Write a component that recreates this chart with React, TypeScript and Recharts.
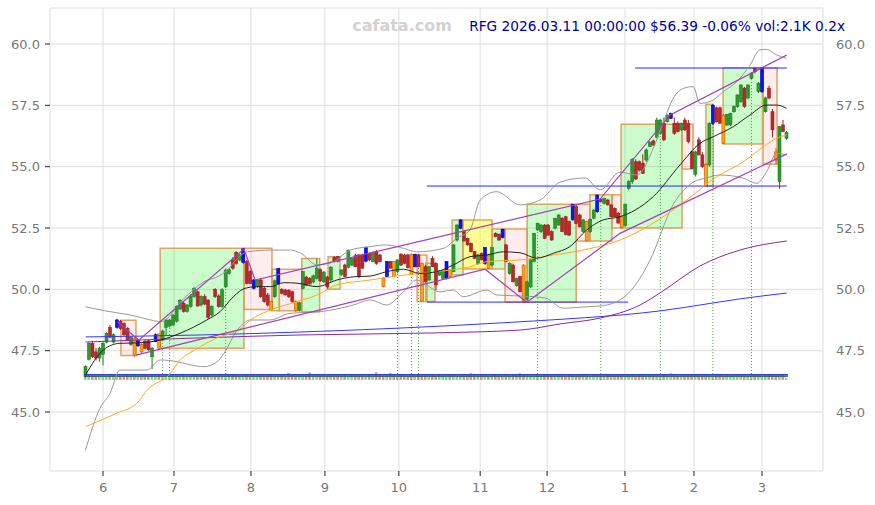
import { ComposedChart, XAxis, YAxis, CartesianGrid, Bar, Line, ReferenceArea, ReferenceLine } from 'recharts'

// daily candles [open, high, low, close], index 0 = late May 2025
const candles: [number, number, number, number][] = [
  [46.45, 46.9, 46.4, 46.85], [47.15, 47.85, 47.1, 47.8], [47.8, 47.9, 47.2, 47.25], [47.45, 47.6, 47.1, 47.2], [47.2, 47.65, 47.05, 47.6],
  [47.35, 47.85, 46.9, 47.8], [47.85, 48.25, 47.8, 48.2], [48.45, 48.55, 48.0, 48.05], [47.85, 48.2, 47.8, 48.15], [48.45, 48.8, 48.4, 48.75],
  [48.7, 48.75, 48.35, 48.4], [48.6, 48.65, 48.1, 48.15], [48.4, 48.45, 47.9, 47.95], [47.75, 48.1, 47.7, 48.05], [48.0, 48.1, 47.25, 47.3],
  [47.7, 47.95, 47.65, 47.93], [47.75, 47.8, 47.4, 47.45], [47.87, 47.95, 47.55, 47.6], [47.9, 47.95, 47.5, 47.53], [47.25, 47.65, 46.75, 47.6],
  [47.87, 48.2, 47.85, 48.15], [48.18, 48.2, 47.55, 47.6], [47.93, 48.35, 47.9, 48.3], [48.45, 48.8, 48.1, 48.75], [48.5, 48.8, 48.45, 48.75],
  [48.55, 49.0, 48.5, 48.95], [48.7, 49.35, 48.65, 49.3], [49.2, 49.6, 49.15, 49.55], [49.43, 49.5, 49.05, 49.1], [49.1, 49.4, 49.05, 49.36],
  [49.3, 49.8, 49.25, 49.73], [49.7, 50.1, 49.65, 50.04], [49.9, 49.95, 49.3, 49.32], [49.36, 49.75, 49.3, 49.7], [49.7, 49.8, 49.35, 49.4],
  [49.56, 49.6, 48.8, 48.86], [48.95, 49.35, 48.9, 49.3], [50.0, 50.05, 49.65, 49.7], [49.73, 49.8, 49.25, 49.3], [49.3, 50.05, 49.25, 49.98],
  [50.1, 50.85, 50.05, 50.79], [50.65, 50.85, 50.6, 50.8], [51.2, 51.3, 50.8, 50.86], [51.5, 51.55, 51.0, 51.06], [51.2, 51.45, 51.15, 51.4],
  [51.1, 51.68, 51.05, 51.65], [51.13, 51.2, 50.2, 50.24], [50.72, 50.8, 50.2, 50.24], [50.04, 50.42, 50.0, 50.38], [50.11, 50.42, 50.05, 50.38],
  [50.38, 50.45, 49.65, 49.7], [50.04, 50.1, 49.45, 49.5], [49.77, 49.85, 49.3, 49.36], [49.5, 49.52, 49.13, 49.16], [49.7, 50.4, 49.65, 50.35],
  [50.24, 50.87, 50.2, 50.85], [50.0, 50.05, 49.8, 49.84], [49.97, 50.02, 49.75, 49.77], [49.97, 50.0, 49.65, 49.7], [49.9, 49.95, 49.45, 49.5],
  [49.5, 49.55, 49.09, 49.12], [49.15, 49.5, 49.1, 49.45], [50.04, 50.75, 50.0, 50.72], [50.5, 50.55, 50.15, 50.17], [50.45, 50.5, 50.2, 50.22],
  [50.3, 50.6, 50.25, 50.55], [50.45, 51.25, 50.4, 50.86], [50.8, 50.85, 50.3, 50.35], [50.3, 50.75, 50.25, 50.7], [50.5, 50.55, 50.0, 50.1],
  [50.38, 50.95, 50.3, 50.9], [51.3, 51.35, 51.1, 51.13], [51.33, 51.36, 51.1, 51.15], [50.6, 50.82, 50.55, 50.79], [50.99, 51.05, 50.5, 50.52],
  [50.9, 51.62, 50.85, 51.6], [50.99, 51.3, 50.95, 51.26], [51.37, 51.45, 50.9, 50.92], [51.4, 51.45, 50.45, 50.52], [51.4, 51.45, 50.85, 50.86],
  [51.15, 51.74, 51.1, 51.7], [51.47, 51.5, 51.15, 51.2], [51.13, 51.55, 51.1, 51.5], [51.54, 51.6, 51.0, 51.06], [51.4, 51.45, 51.1, 51.13],
  [50.45, 50.5, 50.08, 50.11], [50.52, 51.15, 50.5, 51.13], [51.13, 51.15, 50.85, 50.86], [51.13, 51.15, 50.5, 50.52], [50.72, 51.22, 50.65, 51.2],
  [51.43, 51.48, 50.95, 50.99], [51.4, 51.45, 51.02, 51.06], [51.4, 51.45, 50.85, 50.88], [51.43, 51.46, 50.6, 50.61], [50.92, 51.45, 50.9, 51.43],
  [51.4, 51.45, 50.9, 50.92], [51.06, 51.1, 49.5, 49.52], [50.92, 51.0, 50.28, 50.31], [50.38, 50.95, 50.35, 50.92], [51.26, 51.35, 50.9, 50.92],
  [51.06, 51.1, 49.97, 50.18], [50.58, 50.78, 50.55, 50.75], [50.45, 50.78, 50.4, 50.75], [50.45, 51.15, 50.4, 51.13], [50.79, 50.82, 50.5, 50.52],
  [50.72, 51.83, 50.7, 51.81], [52.01, 52.65, 51.95, 52.62], [52.49, 52.85, 52.45, 52.83], [52.35, 52.4, 51.95, 51.97], [52.08, 52.1, 51.78, 51.81],
  [51.88, 51.9, 51.5, 51.54], [51.54, 51.56, 51.24, 51.26], [51.06, 51.45, 51.0, 51.4], [51.47, 51.5, 51.18, 51.2], [51.06, 51.72, 51.0, 51.7],
  [51.4, 51.45, 50.83, 50.86], [50.99, 51.72, 50.95, 51.7], [52.28, 52.32, 52.12, 52.15], [52.24, 52.28, 51.98, 52.01], [52.11, 52.47, 52.08, 52.45],
  [51.81, 51.85, 51.1, 51.13], [50.65, 51.1, 50.6, 51.06], [50.99, 51.05, 50.28, 50.31], [50.15, 50.48, 50.1, 50.45], [50.52, 50.55, 49.88, 49.9],
  [50.99, 51.02, 49.47, 49.5], [49.6, 50.35, 49.55, 50.3], [50.1, 51.25, 50.05, 51.2], [51.13, 52.3, 51.1, 52.28], [52.42, 52.72, 52.38, 52.69],
  [52.35, 52.65, 52.3, 52.62], [52.62, 52.66, 52.06, 52.08], [52.62, 52.66, 52.18, 52.21], [52.35, 52.4, 51.98, 52.01], [52.49, 52.92, 52.45, 52.89],
  [52.62, 53.06, 52.6, 53.03], [52.89, 52.95, 52.33, 52.35], [52.96, 53.0, 52.2, 52.24], [52.76, 52.8, 52.18, 52.21], [52.83, 53.48, 52.8, 53.47],
  [53.37, 53.42, 52.66, 52.69], [53.03, 53.08, 52.52, 52.55], [52.35, 52.86, 52.3, 52.83], [52.76, 52.8, 51.94, 51.97], [52.35, 52.88, 52.3, 52.85],
  [52.9, 53.26, 52.85, 53.23], [53.17, 53.86, 53.12, 53.84], [53.67, 53.72, 53.55, 53.57], [53.5, 53.74, 53.46, 53.71], [53.64, 53.68, 53.42, 53.44],
  [53.44, 53.48, 52.94, 52.96], [53.3, 53.34, 52.94, 52.96], [53.1, 53.15, 52.68, 52.7], [52.95, 53.0, 52.48, 52.52], [52.6, 53.5, 52.55, 53.45],
  [54.12, 54.45, 54.05, 54.39], [54.39, 55.35, 54.3, 55.3], [55.2, 55.3, 54.45, 54.5], [55.2, 55.25, 54.8, 54.86], [55.14, 55.5, 54.7, 54.73],
  [55.27, 55.75, 55.2, 55.68], [55.82, 56.05, 55.8, 55.99], [56.05, 56.1, 55.85, 55.88], [56.2, 57.0, 56.15, 56.9], [56.36, 56.95, 56.3, 56.9],
  [56.77, 57.0, 56.05, 56.09], [56.83, 57.12, 56.8, 57.1], [56.97, 57.2, 56.95, 57.17], [56.77, 57.0, 56.3, 56.36], [56.77, 56.85, 56.4, 56.43],
  [56.5, 56.8, 56.45, 56.77], [56.9, 57.0, 56.45, 56.5], [56.77, 56.9, 55.95, 56.02], [55.6, 55.65, 54.9, 54.93], [54.69, 55.65, 54.6, 55.6],
  [56.09, 56.2, 55.45, 55.48], [55.48, 55.6, 54.95, 55.0], [55.1, 55.15, 54.18, 54.21], [55.07, 56.8, 55.0, 56.77], [56.77, 57.55, 56.7, 57.5],
  [57.4, 57.45, 56.8, 56.83], [57.4, 57.45, 56.75, 56.77], [57.1, 57.15, 55.92, 55.95], [56.7, 57.15, 56.65, 57.13], [56.7, 57.2, 56.65, 57.17],
  [57.24, 57.5, 57.2, 57.45], [57.45, 57.95, 57.4, 57.92], [57.65, 58.35, 57.6, 58.33], [58.2, 58.25, 57.4, 57.45], [57.8, 58.35, 57.75, 58.33],
  [58.6, 58.85, 58.55, 58.8], [59.0, 59.05, 58.8, 58.87], [58.06, 58.45, 58.0, 58.4], [58.06, 59.05, 58.0, 59.03], [57.24, 57.85, 57.2, 57.8],
  [58.2, 58.3, 57.75, 57.8], [57.24, 57.35, 56.2, 56.5], [55.6, 55.75, 55.1, 55.27], [54.39, 56.65, 54.1, 56.63], [56.7, 56.9, 56.4, 56.43],
  [56.15, 56.45, 56.1, 56.39],
]

const pivotHighs = [9, 15, 20, 45, 48, 55, 80, 86, 94, 103, 107, 114, 119, 139, 146, 167, 179, 193]
const pivotLows = [14, 16, 21, 53, 60, 85, 88, 93, 96, 104, 115, 125, 143, 153, 177, 182, 197]

const volumes = [
  14, 12, 11, 10, 11, 12, 10, 11, 12, 11, 10, 11, 12, 10, 11, 10, 11, 12, 10, 11,
  12, 11, 10, 11, 12, 11, 10, 12, 11, 10, 11, 12, 10, 11, 12, 10, 11, 10, 12, 11,
  10, 11, 12, 11, 10, 11, 12, 10, 11, 12, 11, 10, 12, 11, 10, 11, 12, 10, 16, 11,
  10, 12, 11, 10, 17, 11, 12, 10, 11, 10, 12, 11, 10, 11, 12, 10, 11, 12, 10, 11,
  10, 11, 12, 17, 11, 10, 11, 16, 12, 10, 11, 12, 10, 11, 10, 12, 11, 10, 12, 11,
  10, 11, 12, 10, 11, 12, 10, 11, 12, 11, 15, 11, 10, 12, 11, 10, 11, 12, 10, 11,
  12, 10, 11, 10, 15, 11, 12, 10, 11, 12, 10, 11, 12, 10, 11, 12, 11, 10, 11, 12,
  10, 11, 12, 11, 10, 12, 11, 10, 11, 12, 11, 10, 12, 11, 10, 11, 12, 10, 11, 12,
  10, 11, 12, 11, 10, 12, 11, 15, 11, 10, 11, 12, 10, 11, 12, 11, 10, 12, 11, 10,
  11, 12, 10, 11, 12, 10, 11, 12, 11, 10, 14, 11, 12, 10, 11, 12, 11, 10, 12, 11,
  4,
]

const monthTicks = [5, 25.25, 47.2, 68.3, 89.4, 112.6, 131.7, 153.9, 173.6, 193]
const monthLabels = ['6', '7', '8', '9', '10', '11', '12', '1', '2', '3']
const priceTicks = [45, 47.5, 50, 52.5, 55, 57.5, 60]

// indicator curves read at sample points [index, price]
const ma20: [number, number][] = [
  [0, 46.51], [5.1, 47.53], [9.8, 47.8], [15.1, 47.82], [21.3, 47.93], [27, 48.21], [34.6, 48.75], [38.4, 49.09],
  [42.2, 49.7], [45.5, 50.04], [48.8, 50.11], [52.8, 50.11], [56.6, 50.27], [60.4, 50.25], [66.1, 50.11], [71.7, 50.38],
  [76.4, 50.51], [81.2, 50.54], [85.9, 50.72], [90.7, 50.82], [95.4, 50.65], [100.2, 50.72], [104.9, 50.99], [109.7, 51.33],
  [114.5, 51.4], [119.2, 51.53], [124, 51.49], [128.7, 51.27], [133.5, 51.47], [138.2, 51.74], [143, 52.42], [147.7, 52.83],
  [152.5, 52.96], [156.8, 53.23], [162, 53.78], [169.6, 55.07], [175.3, 55.95], [179.1, 56.22], [184.8, 56.63], [189.6, 57.11],
  [194.3, 57.51], [197.2, 57.51], [200, 57.38],
]
const ma50: [number, number][] = [
  [0, 44.4], [8.9, 44.95], [14.6, 45.35], [17.9, 45.94], [24.1, 46.55], [27, 47.12], [31.2, 47.53], [37.5, 48.02],
  [44.1, 48.38], [47.1, 48.75], [52.8, 49.16], [60.4, 49.5], [66.1, 49.77], [71.7, 50.18], [81.2, 50.38], [90.7, 50.58],
  [100.2, 50.72], [109.7, 50.92], [114.5, 51.13], [124, 51.2], [133.5, 51.4], [143, 51.63], [152.5, 52.01], [161.1, 52.62],
  [166.8, 53.15], [171.5, 53.64], [180.1, 54.59], [187.7, 55.2], [193.4, 55.81], [197.2, 56.16], [200, 56.29],
]
const ma100: [number, number][] = [
  [0, 47.85], [32.7, 48.02], [61.2, 48.14], [98.3, 48.22], [124, 48.34], [135.4, 48.59], [146.8, 48.83],
  [158.2, 49.36], [163.9, 49.85], [175.3, 50.95], [186.7, 51.6], [200.1, 51.97],
]
const ma200: [number, number][] = [
  [0, 48.06], [32.7, 48.14], [61.2, 48.26], [89.7, 48.42], [118.3, 48.63], [141.1, 48.83], [152.5, 48.95],
  [163.9, 49.12], [175.3, 49.36], [186.7, 49.61], [200.1, 49.85],
]
const bandUpper: [number, number][] = [
  [0, 49.29], [5.3, 49.13], [12.9, 48.95], [18.6, 48.75], [21.5, 48.68], [28.1, 49.63], [33.8, 50.31], [37.6, 50.51],
  [40.5, 50.79], [43.3, 51.26], [46.2, 51.53], [52.8, 51.6], [58.5, 51.6], [61.4, 51.47], [66.1, 50.99], [70.9, 51.13],
  [75.5, 51.6], [81.2, 51.74], [85.9, 51.81], [90.7, 51.67], [94.5, 51.53], [102.1, 51.67], [105.9, 52.08], [109.7, 52.42],
  [112.6, 53.64], [117.3, 53.98], [124, 53.44], [129.7, 53.64], [135.4, 54.37], [142.5, 54.54], [146.8, 54.05], [152.5, 54.78],
  [157.3, 54.66], [162, 55.75], [164.9, 56.83], [167.7, 57.79], [170.6, 58.19], [173.4, 58.26], [175.3, 57.58], [178.2, 57.65],
  [182, 58.06], [185.8, 58.46], [189.6, 59.14], [192.4, 59.76], [194.3, 59.78], [197.2, 59.55], [200, 59.42],
]
const bandLower: [number, number][] = [
  [0, 43.45], [4.1, 45.15], [7, 45.76], [9.8, 46.71], [17.5, 46.71], [21.3, 47.12], [26.2, 47.05], [30, 46.92],
  [33.8, 46.85], [37.6, 47.05], [39.5, 47.39], [43.3, 48.34], [47.1, 48.75], [52.6, 48.75], [58.3, 49.02], [66.9, 49.09],
  [76.4, 49.36], [81.2, 49.57], [85.9, 49.36], [90.7, 49.9], [94.5, 50.38], [101.1, 49.9], [104.9, 49.97], [107.8, 49.7],
  [114.5, 49.97], [117.3, 49.77], [124, 49.73], [131.1, 49.65], [136.3, 49.23], [143, 49.29], [146.8, 49.32], [152.5, 49.57],
  [157, 50.2], [161.1, 51.2], [167.6, 53.44], [173.4, 54.37], [177.2, 54.54], [181, 54.66], [187.7, 54.53], [191.5, 54.32],
  [194.3, 54.79], [197.2, 55.54], [200, 55.48],
]
const trendUpper: [number, number][] = [
  [9.1, 48.68], [15.2, 47.93], [45.2, 51.64], [48.4, 50.38], [146.8, 53.68], [166.8, 57.11], [200.1, 59.55],
]
const trendLower: [number, number][] = [
  [14.4, 47.32], [114, 50.82], [125.9, 49.47], [152.5, 52.28], [200.1, 55.52],
]

// boxes: [fromIndex, toIndex, top, bottom, kind]
const boxes: [number, number, number, number, string][] = [
  [10.1, 14.4, 48.74, 47.3, 'p'], [21.3, 45.2, 51.67, 47.6, 'g'], [45.2, 53.2, 51.67, 49.18, 'p'],
  [53.2, 55.3, 50.82, 49.13, 'g'], [55.3, 61.7, 50.82, 49.13, 'p'], [61.7, 66.8, 51.26, 49.09, 'g'],
  [69.2, 72.6, 51.33, 50.0, 'g'], [94.6, 97.4, 51.4, 49.5, 'p'], [97.1, 99.7, 51.06, 49.5, 'g'],
  [104.6, 107.7, 52.83, 50.58, 'g'], [107.7, 116, 52.83, 50.83, 'y'], [116, 119.7, 52.46, 50.83, 'g'],
  [119.7, 126, 52.46, 49.47, 'p'], [126, 140, 53.47, 49.47, 'g'], [140, 143.9, 53.47, 51.97, 'p'],
  [143.9, 150.2, 53.85, 51.97, 'g'], [150.2, 152.8, 53.85, 52.5, 'p'], [152.8, 170.2, 56.73, 52.5, 'g'],
  [170.2, 173.3, 56.73, 54.9, 'p'], [177, 179.1, 57.54, 54.21, 'g'], [181.9, 193.3, 59.03, 55.92, 'g'],
  [193.3, 197.3, 59.03, 55.1, 'p'],
]
// horizontal levels: [price, fromIndex, toIndex]
const levels: [number, number, number][] = [
  [49.48, 97.4, 154.8], [54.21, 97.4, 200.1], [59.02, 156.8, 200.1],
]
const signals = [22, 24, 40, 89, 93, 95, 129, 147, 164, 179, 190]

const rows = candles.map(([o, h, l, c], i) => ({
  i, o, h, l, c, vol: volumes[i],
  mark: pivotHighs.includes(i) ? 'hi' : pivotLows.includes(i) ? 'lo' : '',
}))
const pts = (a: [number, number][]) => a.map(([i, p]) => ({ i, p }))

const boxFill: Record<string, [string, number]> = {
  g: ['#00ee00', 0.2], p: ['#ff8888', 0.16], y: ['#ffff00', 0.42],
}

const X_DOMAIN: [number, number] = [-10.13, 210.41]
const Y_DOMAIN: [number, number] = [42.595, 61.467]
const FONT = 'DejaVu Sans, sans-serif'

function Candle(props: any) {
  const { x, y, width, height, payload } = props
  const { o, h, l, c, mark } = payload
  const cx = x + width / 2
  const k = h > l ? height / (h - l) : 0
  const py = (v: number) => y + (h - v) * k
  const top = py(Math.max(o, c))
  const bot = py(Math.min(o, c))
  let fill = c >= o ? '#2e9a2e' : '#b82a2a'
  let stroke = c >= o ? '#237a23' : '#9a2020'
  if (mark === 'hi') { fill = '#1010ff'; stroke = '#0000aa' }
  if (mark === 'lo') { fill = '#ffa500'; stroke = '#d2541a' }
  return (
    <g>
      <line x1={cx} x2={cx} y1={y} y2={y + height} stroke={stroke} strokeWidth={1} />
      <rect x={cx - 1.5} y={top} width={3} height={Math.max(bot - top, 1)} fill={fill} stroke={stroke} strokeWidth={0.6} />
    </g>
  )
}

function VolBar(props: any) {
  const { x, y, width, height, payload } = props
  const up = payload.c >= payload.o
  const cx = x + width / 2
  return <rect x={cx - 1.3} y={y} width={2.6} height={Math.max(height, 0)} fill={up ? '#8fcc8f' : '#d98e8e'} />
}

export default function App() {
  return (
    <div style={{ position: 'absolute', left: 0, top: 0, width: 875, height: 505, background: '#fff' }}>
      <ComposedChart width={875} height={505} data={rows} margin={{ top: 8, right: 0, bottom: 0, left: 0 }}
        style={{ fontFamily: FONT }}>
        <CartesianGrid stroke="#dddddd" />
        <XAxis type="number" dataKey="i" domain={X_DOMAIN} allowDataOverflow ticks={monthTicks} interval={0}
          tickFormatter={(v: number) => monthLabels[monthTicks.indexOf(v)] ?? ''}
          axisLine={false} tickLine={{ stroke: '#222' }} tickSize={5} tickMargin={7} height={34}
          tick={{ fill: '#777', fontSize: 13 }} />
        <XAxis xAxisId="vx" type="number" dataKey="i" domain={X_DOMAIN} allowDataOverflow hide />
        <YAxis type="number" domain={Y_DOMAIN} allowDataOverflow ticks={priceTicks} interval={0} width={50}
          tickFormatter={(v: number) => v.toFixed(1)} axisLine={false} tickLine={{ stroke: '#222' }}
          tickSize={5} tickMargin={5} tick={{ fill: '#777', fontSize: 13 }} />
        <YAxis yAxisId="r" orientation="right" type="number" domain={Y_DOMAIN} allowDataOverflow ticks={priceTicks}
          interval={0} width={52} tickFormatter={(v: number) => v.toFixed(1)} axisLine={false} tickLine={false}
          tickSize={6} tickMargin={7} tick={{ fill: '#777', fontSize: 13 }} />
        <YAxis yAxisId="vol" type="number" domain={[-207, 845]} allowDataOverflow hide />

        {boxes.map(([a, b, top, bottom, kind], n) => (
          <ReferenceArea key={'box' + n} x1={a} x2={b} y1={bottom} y2={top}
            fill={boxFill[kind][0]} fillOpacity={boxFill[kind][1]} stroke="#dd9955" strokeWidth={1.5} strokeOpacity={0.9} />
        ))}

        {levels.map(([p, a, b], n) => (
          <ReferenceLine key={'lvl' + n} segment={[{ x: a, y: p }, { x: b, y: p }]} stroke="#2a2aff" strokeWidth={1} />
        ))}

        {signals.map((s) => (
          <ReferenceLine key={'sig' + s} segment={[{ x: s, y: 46.3 }, { x: s, y: candles[s][2] }]}
            stroke="#3a9a3a" strokeDasharray="1 2" strokeWidth={1} />
        ))}

        <ReferenceLine yAxisId="vol" segment={[{ x: -0.4, y: 8 }, { x: 200.4, y: 8 }]} stroke="#1e6a2e" strokeWidth={1} />
        <ReferenceLine yAxisId="vol" segment={[{ x: -0.4, y: 11.5 }, { x: 200.4, y: 11.5 }]} stroke="#3a3aee" strokeWidth={1.6} />
        <Bar xAxisId="vx" yAxisId="vol" dataKey="vol" barSize={3} shape={VolBar} isAnimationActive={false} />

        <Line data={pts(bandUpper)} dataKey="p" type="monotone" stroke="#999999" strokeWidth={1} dot={false} isAnimationActive={false} />
        <Line data={pts(bandLower)} dataKey="p" type="monotone" stroke="#999999" strokeWidth={1} dot={false} isAnimationActive={false} />
        <Line data={pts(ma200)} dataKey="p" type="monotone" stroke="#3838f0" strokeWidth={1} dot={false} isAnimationActive={false} />
        <Line data={pts(ma100)} dataKey="p" type="monotone" stroke="#8a2a9a" strokeWidth={1} dot={false} isAnimationActive={false} />
        <Line data={pts(ma50)} dataKey="p" type="monotone" stroke="#ffaa22" strokeWidth={1} dot={false} isAnimationActive={false} />
        <Line data={pts(ma20)} dataKey="p" type="monotone" stroke="#222222" strokeWidth={1} dot={false} isAnimationActive={false} />
        <Line data={pts(trendUpper)} dataKey="p" type="linear" stroke="#a040b8" strokeWidth={1.2} dot={false} isAnimationActive={false} />
        <Line data={pts(trendLower)} dataKey="p" type="linear" stroke="#a040b8" strokeWidth={1.2} dot={false} isAnimationActive={false} />

        <Bar dataKey={(d: any) => [d.l, d.h]} barSize={3} shape={Candle} isAnimationActive={false} />
      </ComposedChart>
      <svg width={875} height={505} style={{ position: 'absolute', left: 0, top: 0, pointerEvents: 'none' }}>
        <text x={402} y={31} textAnchor="middle" fontSize={16} fontWeight="bold" fill="#d2d2d2" fontFamily={FONT}>cafata.com</text>
        <text x={845} y={31} textAnchor="end" fontSize={13.7} fill="#000099" fontFamily={FONT}>
          RFG 2026.03.11 00:00:00 $56.39 -0.06% vol:2.1K 0.2x
        </text>
      </svg>
    </div>
  )
}
